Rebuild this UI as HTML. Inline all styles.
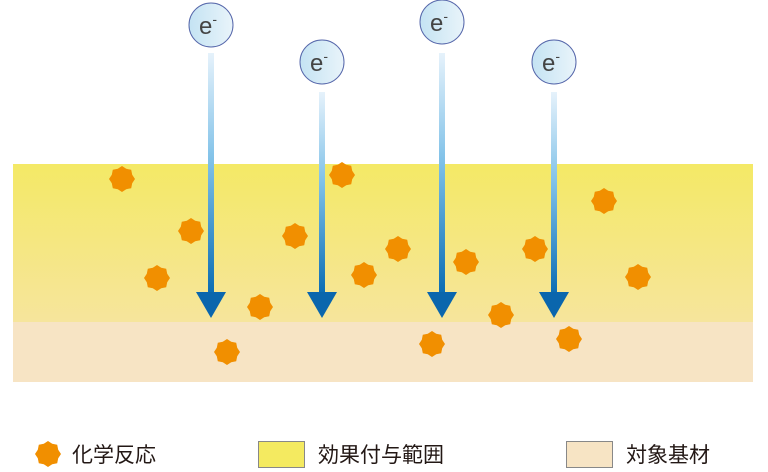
<!DOCTYPE html>
<html><head><meta charset="utf-8"><style>
body{margin:0;width:768px;height:472px;background:#fff;overflow:hidden}
</style></head><body>
<svg width="768" height="472" viewBox="0 0 768 472" xmlns="http://www.w3.org/2000/svg" style="display:block">
<defs>
<linearGradient id="yb" x1="0" y1="0" x2="0" y2="1"><stop offset="0" stop-color="#f4e966"/><stop offset="1" stop-color="#f6e59c"/></linearGradient>
<linearGradient id="ar" x1="0" y1="0" x2="0" y2="1"><stop offset="0" stop-color="#e6f2fb"/><stop offset="0.45" stop-color="#7fc1e8"/><stop offset="1" stop-color="#0a6cb3"/></linearGradient>
<linearGradient id="ci" x1="0" y1="0" x2="1" y2="0"><stop offset="0" stop-color="#c4e3f3"/><stop offset="1" stop-color="#e9f4fa"/></linearGradient>
<g id="st"><polygon fill="#f18f00" points="0,-13 4.2,-10.2 9.2,-9.2 10.2,-4.2 13,0 10.2,4.2 9.2,9.2 4.2,10.2 0,13 -4.2,10.2 -9.2,9.2 -10.2,4.2 -13,0 -10.2,-4.2 -9.2,-9.2 -4.2,-10.2"/></g>
</defs>
<rect x="13" y="164" width="740" height="158" fill="url(#yb)"/>
<rect x="13" y="322" width="740" height="60" fill="#f7e4c4"/>
<g>
<use href="#st" x="122" y="179"/><use href="#st" x="191" y="231"/><use href="#st" x="157" y="278"/>
<use href="#st" x="260" y="307"/><use href="#st" x="227" y="352"/><use href="#st" x="342" y="175"/>
<use href="#st" x="295" y="236"/><use href="#st" x="364" y="275"/><use href="#st" x="398" y="249"/>
<use href="#st" x="466" y="262"/><use href="#st" x="501" y="315"/><use href="#st" x="432" y="344"/>
<use href="#st" x="535" y="249"/><use href="#st" x="604" y="201"/><use href="#st" x="638" y="277"/>
<use href="#st" x="569" y="339"/>
</g>
<g>
<rect x="208" y="53" width="6" height="241" fill="url(#ar)"/><polygon points="196,292 226,292 211,318" fill="#0a66ad"/>
<rect x="319" y="92" width="6" height="202" fill="url(#ar)"/><polygon points="307,292 337,292 322,318" fill="#0a66ad"/>
<rect x="439" y="53" width="6" height="241" fill="url(#ar)"/><polygon points="427,292 457,292 442,318" fill="#0a66ad"/>
<rect x="551" y="92" width="6" height="202" fill="url(#ar)"/><polygon points="539,292 569,292 554,318" fill="#0a66ad"/>
</g>
<g stroke="#5566aa">
<circle cx="211" cy="25" r="22" fill="url(#ci)" stroke-width="1"/>
<circle cx="322" cy="62" r="22" fill="url(#ci)" stroke-width="1"/>
<circle cx="442" cy="22" r="22" fill="url(#ci)" stroke-width="1"/>
<circle cx="554" cy="62" r="22" fill="url(#ci)" stroke-width="1"/>
</g>
<g font-family="Liberation Sans, sans-serif" font-size="24" fill="#444">
<text x="199" y="34">e<tspan font-size="14" dy="-10">-</tspan></text>
<text x="310" y="71">e<tspan font-size="14" dy="-10">-</tspan></text>
<text x="430" y="31">e<tspan font-size="14" dy="-10">-</tspan></text>
<text x="542" y="71">e<tspan font-size="14" dy="-10">-</tspan></text>
</g>
<use href="#st" x="48" y="454"/>
<rect x="258.5" y="441.5" width="46" height="26" fill="#f4ea60" stroke="#888"/>
<rect x="566.5" y="441.5" width="46" height="26" fill="#f7e4c4" stroke="#888"/>
<g font-family="Liberation Sans, 'Noto Sans CJK JP', sans-serif" font-size="21" fill="#231815">
<text x="72" y="462">化学反応</text>
<text x="318" y="462">効果付与範囲</text>
<text x="626" y="462">対象基材</text>
</g>
</svg>
</body></html>
